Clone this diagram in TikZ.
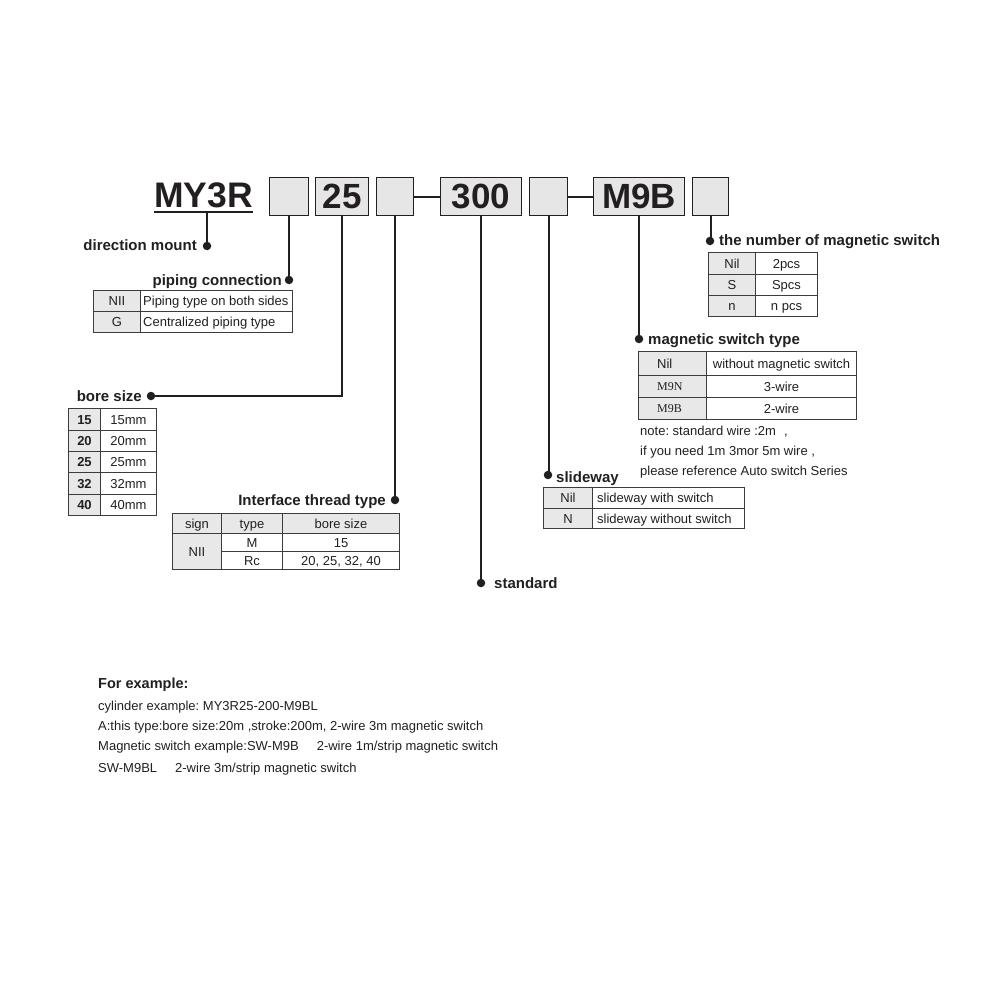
\documentclass[tikz,border=0pt]{standalone}
\usepackage{fontspec}
\setmainfont{Liberation Sans}
\newfontfamily\serifM{Liberation Serif}
\frenchspacing
\definecolor{ink}{HTML}{231F20}
\definecolor{boxgray}{HTML}{E6E6E6}
\definecolor{cellgray}{HTML}{E8E8E8}
\definecolor{tb}{HTML}{3C3C3C}
\tikzset{
  hbox/.style={draw=ink, fill=boxgray, line width=1.3pt, minimum height=38pt, anchor=north west, inner sep=0pt, text=ink, font=\bfseries\fontsize{35}{40}\selectfont},
  conn/.style={draw=ink, line width=1.8pt},
  dotm/.style={circle, fill=ink, inner sep=0pt, minimum size=8.5pt},
  lbl/.style={inner sep=0pt, text=ink, font=\bfseries\fontsize{15}{18}\selectfont},
  txt/.style={inner sep=0pt, text=ink, font=\fontsize{13}{15}\selectfont},
  ctxt/.style={inner sep=0pt, text=ink, font=\fontsize{13}{15}\selectfont, text height=9.4pt, text depth=0pt},
  cg/.style={draw=tb, fill=cellgray, line width=1pt, inner sep=0pt, anchor=north west, text=ink, font=\fontsize{13}{15}\selectfont, text height=9.4pt, text depth=0pt},
  cw/.style={cg, fill=white},
  bnum/.style={font=\bfseries\fontsize{13}{15}\selectfont},
  sm/.style={font=\serifM\fontsize{12}{14}\selectfont, text height=8pt},
}
\begin{document}
\begin{tikzpicture}[x=1pt,y=-1pt]
\useasboundingbox[fill=white] (0,0) rectangle (1000,1000);

% ---------- header ----------
\node[inner sep=0pt, anchor=base west, text=ink, font=\bfseries\fontsize{35.5}{40}\selectfont] (my) at (154,208) {MY3R};
\draw[draw=ink, line width=1.8pt] ([yshift=-4pt]my.base west) -- ([yshift=-4pt]my.base east);
\coordinate (myu) at ([yshift=-4pt]my.base);

\node[hbox, minimum width=39pt] (b1) at (269,177) {};
\node[hbox, minimum width=53pt] (b2) at (315,177) {25};
\node[hbox, minimum width=37pt] (b3) at (376,177) {};
\node[hbox, minimum width=81pt] (b4) at (440,177) {300};
\node[hbox, minimum width=38pt] (b5) at (529,177) {};
\node[hbox, minimum width=91pt] (b6) at (593,177) {M9B};
\node[hbox, minimum width=36pt] (b7) at (692,177) {};
\draw[conn] (b3.east) -- (b4.west);
\draw[conn] (b5.east) -- (b6.west);

% ---------- dots ----------
\node[dotm] (dDir) at (207,246) {};
\node[dotm] (dPipe) at (289,280) {};
\node[dotm] (dBore) at (151,396) {};
\node[dotm] (dThr) at (395,500) {};
\node[dotm] (dStd) at (481,583) {};
\node[dotm] (dSlide) at (548,475) {};
\node[dotm] (dMag) at (639,339) {};
\node[dotm] (dNum) at (710,241) {};

% ---------- connectors ----------
\draw[conn] (dDir |- myu) -- (dDir.center);
\draw[conn] (b1.south) -- (b1.south |- dPipe);
\draw[conn] (b2.south) -- (b2.south |- dBore) -- (dBore.center);
\draw[conn] (b3.south) -- (b3.south |- dThr);
\draw[conn] (b4.south) -- (b4.south |- dStd);
\draw[conn] (b5.south) -- (b5.south |- dSlide);
\draw[conn] (b6.south) -- (b6.south |- dMag);
\draw[conn] (b7.south) -- (b7.south |- dNum);

% ---------- labels ----------
\node[lbl, anchor=base east] (tDir) at (197,251) {direction mount};
\node[lbl, anchor=base east] (tPipe) at (282,285) {piping connection};
\node[lbl, anchor=base east] (tBore) at (142,401) {bore size};
\node[lbl, anchor=base east] (tThr) at (386,505) {Interface thread type};
\node[lbl, anchor=base west] (tStd) at (494,588) {standard};
\node[lbl, anchor=base west] (tSlide) at (556,482) {slideway};
\node[lbl, anchor=base west] (tMag) at (648,344) {magnetic switch type};
\node[lbl, anchor=base west] (tNum) at (719,245) {the number of magnetic switch};

% ---------- piping table ----------
\node[cg, minimum width=47pt, minimum height=21pt] (p11) at (93,290) {NII};
\node[cw, minimum width=152pt, minimum height=21pt] (p12) at (140,290) {};
\node[ctxt, anchor=west] (p12t) at ([xshift=3pt]p12.west) {Piping type on both sides};
\node[cg, minimum width=47pt, minimum height=21pt] (p21) at (93,311) {G};
\node[cw, minimum width=152pt, minimum height=21pt] (p22) at (140,311) {};
\node[ctxt, anchor=west] (p22t) at ([xshift=3pt]p22.west) {Centralized piping type};

% ---------- bore table ----------
\node[cg, bnum, minimum width=32pt, minimum height=22pt] (r11) at (68,408) {15};
\node[cw, minimum width=56pt, minimum height=22pt] (r12) at (100,408) {15mm};
\node[cg, bnum, minimum width=32pt, minimum height=21pt] (r21) at (68,430) {20};
\node[cw, minimum width=56pt, minimum height=21pt] (r22) at (100,430) {20mm};
\node[cg, bnum, minimum width=32pt, minimum height=21pt] (r31) at (68,451) {25};
\node[cw, minimum width=56pt, minimum height=21pt] (r32) at (100,451) {25mm};
\node[cg, bnum, minimum width=32pt, minimum height=22pt] (r41) at (68,472) {32};
\node[cw, minimum width=56pt, minimum height=22pt] (r42) at (100,472) {32mm};
\node[cg, bnum, minimum width=32pt, minimum height=21pt] (r51) at (68,494) {40};
\node[cw, minimum width=56pt, minimum height=21pt] (r52) at (100,494) {40mm};

% ---------- interface table ----------
\node[cg, minimum width=49pt, minimum height=20pt] (i11) at (172,513) {sign};
\node[cg, minimum width=61pt, minimum height=20pt] (i12) at (221,513) {type};
\node[cg, minimum width=117pt, minimum height=20pt] (i13) at (282,513) {bore size};
\node[cg, minimum width=49pt, minimum height=36pt] (i21) at (172,533) {NII};
\node[cw, minimum width=61pt, minimum height=18pt] (i22) at (221,533) {M};
\node[cw, minimum width=117pt, minimum height=18pt] (i23) at (282,533) {15};
\node[cw, minimum width=61pt, minimum height=18pt] (i32) at (221,551) {Rc};
\node[cw, minimum width=117pt, minimum height=18pt] (i33) at (282,551) {20, 25, 32, 40};

% ---------- slideway table ----------
\node[cg, minimum width=49pt, minimum height=21pt] (s11) at (543,487) {Nil};
\node[cw, minimum width=152pt, minimum height=21pt] (s12) at (592,487) {};
\node[ctxt, anchor=west] (s12t) at ([xshift=5pt]s12.west) {slideway with switch};
\node[cg, minimum width=49pt, minimum height=20pt] (s21) at (543,508) {N};
\node[cw, minimum width=152pt, minimum height=20pt] (s22) at (592,508) {};
\node[ctxt, anchor=west] (s22t) at ([xshift=5pt]s22.west) {slideway without switch};

% ---------- number table ----------
\node[cg, minimum width=47pt, minimum height=22pt] (n11) at (708,252) {Nil};
\node[cw, minimum width=62pt, minimum height=22pt] (n12) at (755,252) {2pcs};
\node[cg, minimum width=47pt, minimum height=21pt] (n21) at (708,274) {S};
\node[cw, minimum width=62pt, minimum height=21pt] (n22) at (755,274) {Spcs};
\node[cg, minimum width=47pt, minimum height=21pt] (n31) at (708,295) {n};
\node[cw, minimum width=62pt, minimum height=21pt] (n32) at (755,295) {n pcs};

% ---------- magnetic switch type table ----------
\node[cg, minimum width=68pt, minimum height=24pt] (m11) at (638,351) {};
\node[ctxt, anchor=west] (m11t) at ([xshift=19pt]m11.west) {Nil};
\node[cw, minimum width=150pt, minimum height=24pt] (m12) at (706,351) {without magnetic switch};
\node[cg, minimum width=68pt, minimum height=22pt] (m21) at (638,375) {};
\node[ctxt, sm, anchor=west] (m21t) at ([xshift=19pt]m21.west) {M9N};
\node[cw, minimum width=150pt, minimum height=22pt] (m22) at (706,375) {3-wire};
\node[cg, minimum width=68pt, minimum height=22pt] (m31) at (638,397) {};
\node[ctxt, sm, anchor=west] (m31t) at ([xshift=19pt]m31.west) {M9B};
\node[cw, minimum width=150pt, minimum height=22pt] (m32) at (706,397) {2-wire};

% ---------- note ----------
\node[txt, anchor=base west] (note1) at (640,435) {note: standard wire :2m\hspace{8pt},};
\node[txt, anchor=base west] (note2) at (640,455) {if you need 1m 3mor 5m wire ,};
\node[txt, anchor=base west] (note3) at (640,475) {please reference Auto switch Series};

% ---------- example ----------
\node[lbl, anchor=base west, font=\bfseries\fontsize{14.5}{17}\selectfont] (ex0) at (98,688) {For example:};
\node[txt, anchor=base west] (ex1) at (98,710) {cylinder example: MY3R25-200-M9BL};
\node[txt, anchor=base west] (ex2) at (98,730) {A:this type:bore size:20m ,stroke:200m, 2-wire 3m magnetic switch};
\node[txt, anchor=base west] (ex3) at (98,750) {Magnetic switch example:SW-M9B\hspace{18pt}2-wire 1m/strip magnetic switch};
\node[txt, anchor=base west] (ex4) at (98,772) {SW-M9BL\hspace{18pt}2-wire 3m/strip magnetic switch};
\end{tikzpicture}
\end{document}
